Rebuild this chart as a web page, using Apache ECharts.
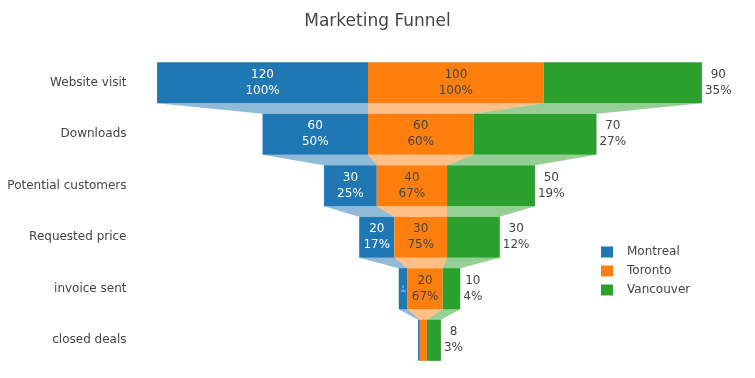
<!DOCTYPE html>
<html>
<head>
<meta charset="utf-8">
<script src="https://cdn.jsdelivr.net/npm/echarts@6/dist/echarts.min.js"></script>
<style>html,body{margin:0;padding:0;background:#fff}#c{width:755px;height:378px}</style>
</head>
<body>
<div id="c"></div>
<script>
const stages = ['Website visit', 'Downloads', 'Potential customers', 'Requested price', 'invoice sent', 'closed deals'];
const montreal = [120, 60, 30, 20, 5, 1];
const toronto = [100, 60, 40, 30, 20, 4];
const vancouver = [90, 70, 50, 30, 10, 8];
const seriesNames = ['Montreal', 'Toronto', 'Vancouver'];
const colors = ['#1f77b4', '#ff7f0e', '#2ca02c'];
const connColors = ['rgba(31,119,180,0.5)', 'rgba(255,127,14,0.5)', 'rgba(44,160,44,0.5)'];
const FONT = 'DejaVu Sans';

const all = [montreal, toronto, vancouver];
const totals = stages.map((_, i) => all.reduce((s, a) => s + a[i], 0));
function pct(s, i) {
  const v = all[s][i];
  if (s === 0) return Math.round(v / all[s][0] * 100);
  if (s === 1) return i === 0 ? 100 : Math.round(v / all[s][i - 1] * 100);
  const tot = all[s].reduce((a, b) => a + b, 0);
  return Math.round(v / tot * 100);
}
const starts = all.map((arr, s) => arr.map((v, i) => -totals[i] / 2 + all.slice(0, s).reduce((acc, a) => acc + a[i], 0)));

const cv = document.createElement('canvas').getContext('2d');
function textW(str, size) {
  cv.font = size + 'px "' + FONT + '"';
  return Math.max.apply(null, str.split('\n').map(l => cv.measureText(l).width));
}

function makeSeries(s) {
  const arr = all[s];
  const data = arr.map((v, i) => {
    const x0 = starts[s][i], x1 = x0 + v;
    const hasNext = i < arr.length - 1;
    const nx0 = hasNext ? starts[s][i + 1] : x0;
    const nx1 = hasNext ? starts[s][i + 1] + arr[i + 1] : x1;
    return [i, x0, x1, nx0, nx1, v, pct(s, i)];
  });
  return {
    name: seriesNames[s],
    type: 'custom',
    itemStyle: { color: colors[s] },
    encode: { x: [1, 2, 3, 4], y: 0 },
    data: data,
    renderItem: function (params, api) {
      const i = api.value(0);
      const p0 = api.coord([api.value(1), i]);
      const p1 = api.coord([api.value(2), i]);
      const band = api.size([0, 1])[1];
      const h = band * 0.8;
      const top = p0[1] - h / 2;
      const children = [];
      if (i < stages.length - 1) {
        const q0 = api.coord([api.value(3), i + 1]);
        const q1 = api.coord([api.value(4), i + 1]);
        children.push({
          type: 'polygon',
          shape: { points: [[p0[0], top + h], [p1[0], top + h], [q1[0], q1[1] - h / 2], [q0[0], q0[1] - h / 2]] },
          style: { fill: connColors[s] }
        });
      }
      children.push({
        type: 'rect',
        shape: { x: p0[0], y: top, width: p1[0] - p0[0], height: h },
        style: { fill: colors[s] }
      });
      const txt = api.value(5) + '\n' + api.value(6) + '%';
      if (s === 2) {
        const w = textW(txt, 12);
        children.push({
          type: 'text',
          style: { text: txt, x: p1[0] + 3 + w / 2, y: p0[1], align: 'center', verticalAlign: 'middle',
                   fill: '#444', font: '12px "' + FONT + '"', lineHeight: 16 }
        });
      } else {
        const bw = p1[0] - p0[0];
        const w = textW(txt, 12);
        let size = 12 * Math.min(1, (bw - 4) / w);
        if (size >= 2) {
          children.push({
            type: 'text',
            style: { text: txt, x: (p0[0] + p1[0]) / 2, y: p0[1], align: 'center', verticalAlign: 'middle',
                     fill: s === 0 ? '#fff' : '#444', font: size.toFixed(2) + 'px "' + FONT + '"', lineHeight: size * 16 / 12 }
          });
        }
      }
      return { type: 'group', children: children };
    }
  };
}

const chart = echarts.init(document.getElementById('c'));
chart.setOption({
  animation: false,
  color: colors,
  title: {
    text: 'Marketing Funnel', left: 'center', top: 8,
    textStyle: { fontFamily: FONT, fontSize: 17, fontWeight: 'normal', color: '#444' }
  },
  legend: {
    data: seriesNames, orient: 'vertical', left: 596, top: 241,
    icon: 'rect', itemWidth: 12, itemHeight: 11, itemGap: 7,
    textStyle: { fontFamily: FONT, fontSize: 12, color: '#444', padding: [0, 0, 0, 9] }
  },
  grid: { left: 139.5, width: 580, top: 57, height: 309 },
  xAxis: { type: 'value', min: -165, max: 165, show: false },
  yAxis: {
    type: 'category', data: stages, inverse: true,
    axisLine: { show: false }, axisTick: { show: false }, splitLine: { show: false },
    axisLabel: { fontFamily: FONT, fontSize: 12, color: '#444', margin: 13 }
  },
  series: [0, 1, 2].map(makeSeries)
});
</script>
</body>
</html>
